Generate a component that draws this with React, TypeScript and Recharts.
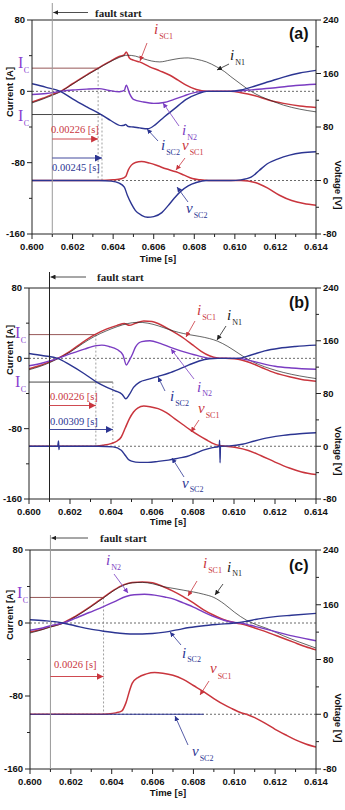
import React from 'react';
import { ComposedChart, Line, XAxis, YAxis, ReferenceLine } from 'recharts';

type Pt = [number, number];

// shared axes
const TIME_TICKS = [0.6, 0.601, 0.602, 0.603, 0.604, 0.605, 0.606, 0.607, 0.608, 0.609, 0.61, 0.611, 0.612, 0.613, 0.614];
const CURRENT_TICKS = [-160, -120, -80, -40, 0, 40, 80];
const CURRENT_LABELS = [-160, -80, 0, 80];
const VOLTAGE_TICKS = [-80, -40, 0, 40, 80, 120, 160, 200, 240];
const VOLTAGE_LABELS = [-80, 0, 80, 160, 240];
const FAULT_T = 0.601;

// (a)
const A_ISC1: Pt[] = [[0.6, -12], [0.6005, -8], [0.601, -3.5], [0.6014, 0], [0.602, 8.5], [0.6027, 18.5], [0.60326, 26], [0.6038, 33], [0.6043, 39], [0.60455, 41], [0.60465, 44], [0.6048, 37.5], [0.605, 35], [0.6053, 33], [0.6058, 27.5], [0.6063, 23], [0.6068, 18], [0.6072, 12.5], [0.6076, 7], [0.6081, 2], [0.6086, 0], [0.6098, 0], [0.6103, -1.5], [0.611, -5], [0.6117, -10], [0.6124, -13.5], [0.6132, -16.5], [0.614, -18]];
const A_IN1: Pt[] = [[0.6, -13], [0.6005, -9], [0.601, -4.5], [0.6014, -0.5], [0.602, 8], [0.6027, 18], [0.60326, 25.5], [0.6038, 32.5], [0.6043, 38], [0.6047, 40.5], [0.6051, 39.5], [0.6055, 36.5], [0.6059, 34], [0.6063, 33], [0.6068, 35], [0.6073, 37], [0.6077, 37.5], [0.6081, 36], [0.6086, 33], [0.6091, 27.5], [0.6095, 22], [0.6098, 16.5], [0.6103, 8], [0.6108, 0], [0.6113, -6], [0.6118, -10.5], [0.6124, -15.5], [0.6132, -20], [0.614, -23]];
const A_IN2: Pt[] = [[0.6, -3.5], [0.6007, -2.5], [0.6014, 0], [0.602, 1.5], [0.6027, 2.5], [0.6033, 3], [0.6038, 1], [0.6043, -0.5], [0.60455, 1], [0.60465, 7], [0.6048, -2], [0.605, -9], [0.6055, -12], [0.606, -13.5], [0.6065, -12.5], [0.607, -9], [0.6075, -5], [0.608, -1.5], [0.6085, 0], [0.6098, 0], [0.6105, 1], [0.611, 2], [0.612, 4], [0.613, 6.5], [0.614, 8]];
const A_ISC2: Pt[] = [[0.6, 8.5], [0.6007, 4.5], [0.6014, 0], [0.602, -8.5], [0.6027, -17.5], [0.60345, -26.6], [0.6039, -33], [0.6044, -38.5], [0.60455, -38], [0.6046, -37], [0.60475, -39.5], [0.605, -40], [0.6053, -41], [0.6057, -42], [0.6061, -37], [0.6065, -29], [0.607, -20], [0.6076, -9], [0.6082, -2.5], [0.6086, 0], [0.6098, 0], [0.6103, 1.5], [0.611, 6], [0.6117, 11], [0.6124, 16], [0.6132, 20.5], [0.614, 23.5]];
const A_VSC1: Pt[] = [[0.6, 0], [0.6033, 0], [0.604, 1], [0.6044, 2.5], [0.60462, 6], [0.60475, 16], [0.6049, 23], [0.6051, 27], [0.6054, 28.5], [0.6058, 26], [0.6062, 22], [0.6066, 17.5], [0.6071, 13], [0.6075, 8], [0.6079, 3], [0.6083, 1], [0.6087, 0], [0.6103, 0], [0.611, -3], [0.6116, -11], [0.6122, -22], [0.6128, -30], [0.6134, -34.5], [0.614, -37]];
const A_VSC2: Pt[] = [[0.6, 0], [0.6033, 0], [0.6039, -1], [0.6043, -4], [0.60455, -10], [0.6047, -22], [0.6049, -35], [0.6051, -45], [0.6054, -52], [0.6057, -55], [0.606, -54], [0.6064, -48], [0.6067, -38], [0.607, -27], [0.6073, -17], [0.6077, -8], [0.6081, -3], [0.6086, 0], [0.6098, 0], [0.6103, 1], [0.6108, 5], [0.6112, 15], [0.6116, 25], [0.6121, 32], [0.6127, 38], [0.6133, 41.5], [0.614, 43]];

// (b)
const B_ISC1: Pt[] = [[0.6, -12], [0.6005, -8.5], [0.601, -4], [0.6014, 0], [0.602, 8], [0.6026, 18], [0.60326, 27.5], [0.6038, 33.5], [0.6043, 37.5], [0.60465, 39.5], [0.6049, 37.5], [0.6052, 40], [0.6056, 42.5], [0.606, 42], [0.6064, 38.5], [0.6068, 33.5], [0.6072, 28], [0.6076, 22], [0.608, 15], [0.6084, 8], [0.6088, 3], [0.6092, 0.5], [0.6096, 0], [0.6102, -1], [0.6108, -5], [0.6114, -11], [0.612, -16.5], [0.6127, -21], [0.6133, -24], [0.614, -26]];
const B_IN1: Pt[] = [[0.6, -13], [0.6005, -9.5], [0.601, -5], [0.6014, -0.5], [0.602, 7], [0.6026, 16.5], [0.6032, 25], [0.6038, 31.5], [0.6043, 36], [0.6048, 39.5], [0.6053, 41], [0.6058, 40], [0.6063, 37], [0.6068, 33], [0.6073, 29.5], [0.6078, 27], [0.6083, 25], [0.6088, 22.5], [0.6092, 19.5], [0.6097, 13.5], [0.6102, 6], [0.6106, 0], [0.6112, -7], [0.6118, -12], [0.6124, -16], [0.6132, -20], [0.614, -23]];
const B_IN2: Pt[] = [[0.6, -8.5], [0.6007, -5], [0.6014, 0], [0.602, 5], [0.6027, 10.5], [0.6033, 14.5], [0.60355, 15], [0.6039, 13.5], [0.6043, 10], [0.60458, 4], [0.60475, -7.5], [0.6049, -2], [0.60505, 5], [0.6052, 13], [0.6055, 19], [0.6059, 20], [0.6064, 17], [0.6069, 12.5], [0.6074, 8.5], [0.6079, 5], [0.6084, 2], [0.6089, 0], [0.6102, 0], [0.6107, -2], [0.6113, -5.5], [0.612, -9], [0.6128, -11], [0.614, -12.5]];
const B_ISC2: Pt[] = [[0.6, 5.5], [0.6007, 3], [0.6014, 0], [0.602, -7.5], [0.6027, -17.5], [0.6033, -27], [0.6038, -33], [0.6042, -37], [0.60455, -41], [0.60472, -46], [0.6049, -41], [0.6051, -33], [0.6054, -27], [0.6058, -24], [0.6063, -20.5], [0.6068, -17], [0.6073, -12.5], [0.6078, -7.5], [0.6083, -3], [0.6088, -0.5], [0.6092, 0], [0.6102, 0], [0.6108, 3.5], [0.6115, 8.5], [0.6122, 11.5], [0.613, 13.5], [0.614, 15]];
const B_VSC1: Pt[] = [[0.6, 0], [0.6032, 0], [0.6036, 1.5], [0.604, 4], [0.6043, 8], [0.6045, 14], [0.6047, 28], [0.6049, 42], [0.6051, 52], [0.6053, 58], [0.6056, 61], [0.6059, 60], [0.6063, 57], [0.6067, 51], [0.6071, 42], [0.6075, 33], [0.6079, 24], [0.6083, 16], [0.6087, 9], [0.609, 4], [0.6093, 1], [0.6096, 0], [0.6101, -2], [0.6107, -6.5], [0.6113, -14], [0.612, -24], [0.6127, -33], [0.6133, -39], [0.614, -43]];
const B_VSC2: Pt[] = [[0.6, 0], [0.6014, 0], [0.60144, 8], [0.60146, -5], [0.60148, 0], [0.6034, 0], [0.6041, -1], [0.6045, -6], [0.6047, -14], [0.60485, -20], [0.605, -22.5], [0.6054, -24.5], [0.6058, -24.5], [0.6063, -23], [0.6068, -21], [0.6073, -18], [0.6077, -15.5], [0.6081, -11], [0.6085, -6], [0.6089, -2.5], [0.60928, 0], [0.6093, 9], [0.60932, -25], [0.60934, 0], [0.6098, 0.5], [0.6104, 3], [0.611, 8], [0.6117, 13], [0.6124, 16.5], [0.6132, 19], [0.614, 20.5]];

// (c)
const C_ISC1: Pt[] = [[0.6, -10], [0.6005, -7.5], [0.601, -4], [0.6016, 0], [0.6022, 7], [0.6029, 17], [0.6036, 28.2], [0.6041, 36], [0.6046, 42], [0.605, 44.5], [0.6055, 45], [0.606, 44], [0.6065, 40], [0.607, 35], [0.6075, 29], [0.608, 22], [0.6085, 14.5], [0.609, 8.5], [0.6095, 3.5], [0.6101, 0], [0.6106, -2.5], [0.611, -5.5], [0.6116, -10], [0.6122, -15], [0.6129, -21], [0.6135, -26], [0.614, -29.5]];
const C_IN1: Pt[] = [[0.6, -11], [0.6005, -8], [0.601, -4.5], [0.6016, -0.5], [0.6022, 6.5], [0.6029, 16.5], [0.6036, 27.5], [0.6041, 35.5], [0.6046, 41.5], [0.605, 44], [0.6055, 44.5], [0.606, 43], [0.6065, 40], [0.607, 38], [0.6075, 36], [0.608, 34], [0.6085, 31.5], [0.609, 28], [0.6095, 21], [0.61, 12], [0.6106, 3], [0.6111, -2], [0.6116, -6], [0.6124, -14], [0.6132, -21], [0.614, -27.5]];
const C_IN2: Pt[] = [[0.6, -8], [0.6005, -6], [0.601, -3], [0.6016, 0], [0.6022, 5], [0.6029, 11.5], [0.6036, 18], [0.6042, 24], [0.6047, 29], [0.6051, 31], [0.6056, 31.5], [0.6061, 30.5], [0.6066, 28.5], [0.607, 26.5], [0.6075, 22], [0.608, 17.5], [0.6085, 12], [0.609, 7], [0.6095, 3], [0.61, 0.5], [0.6103, 0], [0.6108, -2.5], [0.6115, -6.5], [0.6122, -10.5], [0.613, -15], [0.614, -19.5]];
const C_ISC2: Pt[] = [[0.6, 3.5], [0.6007, 2.5], [0.6012, 1.5], [0.6016, 0], [0.6022, -3], [0.6029, -6.5], [0.6036, -9], [0.6043, -11], [0.6049, -12], [0.6055, -12], [0.606, -11.5], [0.6066, -10], [0.6072, -7.5], [0.6078, -5], [0.6085, -3], [0.6092, -1.5], [0.61, 0], [0.6105, 1.5], [0.6112, 4.5], [0.612, 7], [0.6128, 8.5], [0.614, 10.5]];
const C_VSC1: Pt[] = [[0.6, 0], [0.6033, 0], [0.6038, 0.5], [0.6042, 2], [0.6045, 5], [0.6047, 17], [0.6049, 37], [0.605, 45], [0.6053, 54], [0.6057, 59], [0.6061, 61], [0.6065, 60], [0.607, 57], [0.6075, 51], [0.608, 42], [0.6085, 33], [0.609, 23], [0.6095, 14], [0.6099, 8], [0.6103, 2.5], [0.6106, 0], [0.611, -5], [0.6115, -13], [0.612, -22], [0.6125, -30], [0.613, -37.5], [0.6135, -43.5], [0.614, -48]];
const C_VSC2: Pt[] = [[0.6, 0], [0.603, 0], [0.606, 0], [0.6085, 0]];

const RED = '#c9353d';
const BLUE = '#2c3592';
const PURPLE = '#7a3cc2';
const BLACK = '#222';
const IC_PURPLE = '#8b3fd0';
const AXIS = '#222';

const PLOT_TOP = 20;
const PLOT_RIGHT = 316;
const RIGHT_AXIS_W = 29;
const X_AXIS_H = 31;

const SANS = '"Liberation Sans", Arial, sans-serif';
const SERIF = '"Liberation Serif", "Times New Roman", serif';
const TICK_FONT: React.CSSProperties = { fontFamily: SANS, fontSize: 9.5, fontWeight: 'bold', fill: '#111' };
const TITLE_FONT: React.CSSProperties = { fontFamily: SANS, fontSize: 9.5, fontWeight: 'bold', fill: '#111' };

function TimeTick(props: any) {
  const { x, y, payload } = props;
  const major = Math.round(payload.value * 1000) % 2 === 0;
  return (
    <g>
      <line x1={x} x2={x} y1={y} y2={y + (major ? 5 : 3)} stroke={AXIS} />
      {major && (
        <text x={x} y={y + 16} textAnchor="middle" style={TICK_FONT}>
          {payload.value.toFixed(3)}
        </text>
      )}
    </g>
  );
}

function CurrentTick(props: any) {
  const { x, y, payload } = props;
  const major = CURRENT_LABELS.includes(payload.value);
  return (
    <g>
      <line x1={x} x2={x - (major ? 5 : 3)} y1={y} y2={y} stroke={AXIS} />
      {major && (
        <text x={x - 7} y={y} dy="0.35em" textAnchor="end" style={TICK_FONT}>
          {payload.value}
        </text>
      )}
    </g>
  );
}

function VoltageTick(props: any) {
  const { x, y, payload } = props;
  const major = VOLTAGE_LABELS.includes(payload.value);
  return (
    <g>
      <line x1={x} x2={x + (major ? 5 : 3)} y1={y} y2={y} stroke={AXIS} />
      {major && (
        <text x={x + 7} y={y} dy="0.35em" textAnchor="start" style={TICK_FONT}>
          {payload.value}
        </text>
      )}
    </g>
  );
}

// italic symbol with a small subscript, e.g. i_SC1
function Sym({ x, y, s, sub, color, drop = 5 }: { x: number; y: number; s: string; sub: string; color: string; drop?: number }) {
  return (
    <text x={x} y={y} fill={color} style={{ fontFamily: SERIF }}>
      <tspan fontStyle="italic" fontSize={15}>{s}</tspan>
      <tspan fontSize={8} dx={1} dy={drop}>{sub}</tspan>
    </text>
  );
}

function IcLabel({ x, y }: { x: number; y: number }) {
  return (
    <text x={x} y={y} fill={IC_PURPLE} style={{ fontFamily: SERIF }}>
      <tspan fontSize={16}>I</tspan>
      <tspan fontSize={8} dx={0.5} dy={5}>C</tspan>
    </text>
  );
}

function Leader({ x1, y1, x2, y2, color, id }: { x1: number; y1: number; x2: number; y2: number; color: string; id: string }) {
  return <line x1={x1} y1={y1} x2={x2} y2={y2} stroke={color} strokeWidth={0.8} markerEnd={`url(#${id})`} />;
}

function Markers({ tag }: { tag: string }) {
  const cols: Record<string, string> = { red: RED, blue: BLUE, purple: PURPLE, black: '#222' };
  return (
    <defs>
      {Object.entries(cols).map(([k, c]) => (
        <React.Fragment key={k}>
          <marker id={`${tag}-s-${k}`} viewBox="0 0 10 10" refX="10" refY="5" markerWidth="5" markerHeight="5" markerUnits="userSpaceOnUse" orient="auto">
            <path d="M0,0 L10,5 L0,10 z" fill={c} />
          </marker>
          <marker id={`${tag}-l-${k}`} viewBox="0 0 10 10" refX="10" refY="5" markerWidth="7" markerHeight="7" markerUnits="userSpaceOnUse" orient="auto">
            <path d="M0,0 L10,5 L0,10 z" fill={c} />
          </marker>
        </React.Fragment>
      ))}
    </defs>
  );
}

interface PanelProps {
  tag: string;
  height: number;
  plotLeft: number;
  plotHeight: number;
  iSC1: Pt[]; iN1: Pt[]; iN2: Pt[]; iSC2: Pt[]; vSC1: Pt[]; vSC2: Pt[];
  vSC2Width?: number;
  ic: number;
  tRed: number;
  tBlue?: number;
  faultColor: string;
  faultTop: number;
  overlay: (sx: (t: number) => number) => React.ReactNode;
}

const pts = (a: Pt[]) => a.map(([t, v]) => ({ t, v }));

function Panel(p: PanelProps) {
  const sx = (t: number) => p.plotLeft + ((t - 0.6) / 0.014) * (PLOT_RIGHT - p.plotLeft);
  const mb = p.height - PLOT_TOP - p.plotHeight - X_AXIS_H;
  const zeroV = -100; // 0 V on the right axis lines up with -100 A on the left
  const series: [Pt[], string, string, number][] = [
    [p.iSC1, 'I', RED, 1.5],
    [p.iN1, 'I', BLACK, 0.7],
    [p.iN2, 'I', PURPLE, 1.4],
    [p.iSC2, 'I', BLUE, 1.4],
    [p.vSC1, 'V', RED, 1.5],
    [p.vSC2, 'V', BLUE, p.vSC2Width ?? 1.4],
  ];
  return (
    <div style={{ position: 'relative', width: 345, height: p.height }}>
      <ComposedChart width={345} height={p.height} margin={{ top: PLOT_TOP, right: 0, bottom: mb, left: 0 }}>
        <XAxis
          type="number"
          dataKey="t"
          domain={[0.6, 0.614]}
          ticks={TIME_TICKS}
          interval={0}
          allowDataOverflow
          height={X_AXIS_H}
          tick={<TimeTick />}
          tickLine={false}
          tickSize={0}
          tickMargin={0}
          axisLine={{ stroke: AXIS }}
        />
        <YAxis
          yAxisId="I"
          type="number"
          domain={[-160, 80]}
          ticks={CURRENT_TICKS}
          interval={0}
          width={p.plotLeft}
          tick={<CurrentTick />}
          tickLine={false}
          tickSize={0}
          tickMargin={0}
          axisLine={{ stroke: AXIS }}
        />
        <YAxis
          yAxisId="V"
          orientation="right"
          type="number"
          domain={[-80, 240]}
          ticks={VOLTAGE_TICKS}
          interval={0}
          width={RIGHT_AXIS_W}
          tick={<VoltageTick />}
          tickLine={false}
          tickSize={0}
          tickMargin={0}
          axisLine={{ stroke: AXIS }}
        />
        <ReferenceLine yAxisId="I" y={80} stroke={AXIS} />
        <ReferenceLine yAxisId="I" y={0} stroke="#444" strokeDasharray="2 2" strokeWidth={0.8} />
        <ReferenceLine yAxisId="V" y={0} stroke="#444" strokeDasharray="2 2" strokeWidth={0.8} />
        <ReferenceLine yAxisId="I" segment={[{ x: 0.6, y: p.ic }, { x: p.tRed, y: p.ic }]} stroke="#8b4545" strokeWidth={0.9} />
        <ReferenceLine yAxisId="I" segment={[{ x: p.tRed, y: p.ic }, { x: p.tRed, y: zeroV }]} stroke="#888" strokeDasharray="2 2" strokeWidth={0.8} />
        {p.tBlue !== undefined && (
          <ReferenceLine yAxisId="I" segment={[{ x: 0.6, y: -p.ic }, { x: p.tBlue, y: -p.ic }]} stroke="#333" strokeWidth={0.9} />
        )}
        {p.tBlue !== undefined && (
          <ReferenceLine yAxisId="I" segment={[{ x: p.tBlue, y: -p.ic }, { x: p.tBlue, y: zeroV }]} stroke="#888" strokeDasharray="2 2" strokeWidth={0.8} />
        )}
        {series.map(([d, ax, c, w], i) => (
          <Line
            key={i}
            yAxisId={ax}
            data={pts(d)}
            dataKey="v"
            type="monotone"
            stroke={c}
            strokeWidth={w}
            dot={false}
            activeDot={false}
            isAnimationActive={false}
          />
        ))}
      </ComposedChart>
      <svg width={345} height={p.height} style={{ position: 'absolute', left: 0, top: 0, pointerEvents: 'none' }}>
        <Markers tag={p.tag} />
        <line x1={sx(FAULT_T)} x2={sx(FAULT_T)} y1={p.faultTop} y2={PLOT_TOP + p.plotHeight} stroke={p.faultColor} strokeWidth={1} />
        {p.overlay(sx)}
      </svg>
    </div>
  );
}

const SERIF_SMALL: React.CSSProperties = { fontFamily: SERIF, fontSize: 10.5 };
const FAULT_FONT: React.CSSProperties = { fontFamily: SERIF, fontSize: 11, fontWeight: 'bold', fill: '#222' };
const TAG_FONT: React.CSSProperties = { fontFamily: SANS, fontSize: 16, fontWeight: 'bold', fill: '#111' };

function Titles({ cy, vy, tx, ty }: { cy: number; vy: number; tx: number; ty: number }) {
  return (
    <>
      <text transform={`translate(9, ${cy}) rotate(-90)`} textAnchor="middle" dominantBaseline="central" style={TITLE_FONT}>Current [A]</text>
      <text transform={`translate(338, ${vy}) rotate(90)`} textAnchor="middle" dominantBaseline="central" style={TITLE_FONT}>Voltage [V]</text>
      <text x={tx} y={ty} textAnchor="middle" style={TITLE_FONT}>Time [s]</text>
    </>
  );
}

export default function App() {
  return (
    <div style={{ position: 'absolute', left: 0, top: 0, width: 345, height: 810, background: '#fff' }}>
      <Panel
        tag="a" height={268} plotLeft={32} plotHeight={214}
        iSC1={A_ISC1} iN1={A_IN1} iN2={A_IN2} iSC2={A_ISC2} vSC1={A_VSC1} vSC2={A_VSC2}
        ic={26} tRed={0.60326} tBlue={0.60345} faultColor="#999" faultTop={3}
        overlay={(sx) => (
          <>
            <line x1={88} y1={12.5} x2={sx(FAULT_T) + 1} y2={12.5} stroke="#222" strokeWidth={0.8} markerEnd="url(#a-s-black)" />
            <text x={95} y={16.5} style={FAULT_FONT}>fault start</text>
            <text x={289} y={39} style={TAG_FONT}>(a)</text>
            <IcLabel x={18} y={68} />
            <IcLabel x={18} y={121} />
            <text x={51} y={133} fill={RED} style={SERIF_SMALL}>0.00226 [s]</text>
            <line x1={sx(FAULT_T)} x2={sx(0.60326)} y1={139} y2={139} stroke={RED} strokeWidth={0.9} markerEnd="url(#a-l-red)" />
            <line x1={sx(FAULT_T)} x2={sx(0.60345)} y1={158} y2={158} stroke={BLUE} strokeWidth={0.9} markerEnd="url(#a-l-blue)" />
            <text x={52} y={171} fill={BLUE} style={SERIF_SMALL}>0.00245 [s]</text>
            <Sym x={154} y={34} s="i" sub="SC1" color={RED} />
            <Leader x1={147} y1={43} x2={140} y2={61} color={RED} id="a-s-red" />
            <Sym x={230} y={60} s="i" sub="N1" color="#222" />
            <Leader x1={229} y1={64} x2={217} y2={70} color="#222" id="a-s-black" />
            <Sym x={182} y={135} s="i" sub="N2" color={PURPLE} />
            <Leader x1={179} y1={126} x2={163} y2={103} color={PURPLE} id="a-s-purple" />
            <Sym x={161} y={150} s="i" sub="SC2" color={BLUE} />
            <Leader x1={158} y1={141} x2={147} y2={129} color={BLUE} id="a-s-blue" />
            <Sym x={182} y={150} s="v" sub="SC1" color={RED} />
            <Leader x1={185} y1={158} x2={176} y2={170} color={RED} id="a-s-red" />
            <Sym x={186} y={213} s="v" sub="SC2" color={BLUE} />
            <Leader x1={188} y1={202} x2={177} y2={187} color={BLUE} id="a-s-blue" />
            <Titles cy={92} vy={185} tx={158} ty={262} />
          </>
        )}
      />
      <Panel
        tag="b" height={262} plotLeft={29} plotHeight={211}
        iSC1={B_ISC1} iN1={B_IN1} iN2={B_IN2} iSC2={B_ISC2} vSC1={B_VSC1} vSC2={B_VSC2}
        ic={27} tRed={0.60326} tBlue={0.60409} faultColor="#222" faultTop={4}
        overlay={(sx) => (
          <>
            <line x1={86} y1={9} x2={sx(FAULT_T) + 1} y2={9} stroke="#222" strokeWidth={0.8} markerEnd="url(#b-s-black)" />
            <text x={97} y={13} style={FAULT_FONT}>fault start</text>
            <text x={289} y={40} style={TAG_FONT}>(b)</text>
            <IcLabel x={15} y={70} />
            <IcLabel x={15} y={119} />
            <text x={50} y={132} fill={RED} style={SERIF_SMALL}>0.00226 [s]</text>
            <line x1={sx(FAULT_T)} x2={sx(0.60326)} y1={137.5} y2={137.5} stroke={RED} strokeWidth={0.9} markerEnd="url(#b-l-red)" />
            <text x={50} y={157} fill={BLUE} style={SERIF_SMALL}>0.00309 [s]</text>
            <line x1={sx(FAULT_T)} x2={sx(0.60409)} y1={161.5} y2={161.5} stroke={BLUE} strokeWidth={0.9} markerEnd="url(#b-l-blue)" />
            <Sym x={197} y={47} s="i" sub="SC1" color={RED} />
            <Leader x1={195} y1={53} x2={186} y2={69} color={RED} id="b-s-red" />
            <Sym x={227} y={52} s="i" sub="N1" color="#222" />
            <Leader x1={226} y1={58} x2={217} y2={72} color="#222" id="b-s-black" />
            <Sym x={197} y={124} s="i" sub="N2" color={PURPLE} drop={4} />
            <Leader x1={194} y1={111} x2={171} y2={81} color={PURPLE} id="b-s-purple" />
            <Sym x={170} y={133} s="i" sub="SC2" color={BLUE} />
            <Leader x1={165} y1={123} x2={158} y2={109} color={BLUE} id="b-s-blue" />
            <Sym x={198} y={145} s="v" sub="SC1" color={RED} />
            <Leader x1={199} y1={152} x2={191} y2={164} color={RED} id="b-s-red" />
            <Sym x={182} y={220} s="v" sub="SC2" color={BLUE} drop={4} />
            <Leader x1={184} y1={209} x2={172} y2={190} color={BLUE} id="b-s-blue" />
            <Titles cy={82} vy={183} tx={168} ty={257} />
          </>
        )}
      />
      <Panel
        tag="c" height={280} plotLeft={30} plotHeight={219}
        iSC1={C_ISC1} iN1={C_IN1} iN2={C_IN2} iSC2={C_ISC2} vSC1={C_VSC1} vSC2={C_VSC2}
        vSC2Width={1.1}
        ic={28} tRed={0.6036} faultColor="#999" faultTop={5}
        overlay={(sx) => (
          <>
            <line x1={88} y1={8} x2={sx(FAULT_T) + 1} y2={8} stroke="#222" strokeWidth={0.8} markerEnd="url(#c-s-black)" />
            <text x={100} y={12} style={FAULT_FONT}>fault start</text>
            <text x={289} y={41} style={TAG_FONT}>(c)</text>
            <IcLabel x={17} y={68} />
            <text x={54} y={138} fill={RED} style={SERIF_SMALL}>0.0026 [s]</text>
            <line x1={sx(FAULT_T)} x2={sx(0.6036)} y1={146.5} y2={146.5} stroke={RED} strokeWidth={0.9} markerEnd="url(#c-l-red)" />
            <Sym x={106} y={35} s="i" sub="N2" color={PURPLE} />
            <Leader x1={114} y1={44} x2={128} y2={63} color={PURPLE} id="c-s-purple" />
            <Sym x={203} y={38} s="i" sub="SC1" color={RED} />
            <Leader x1={197} y1={51} x2={188} y2={66} color={RED} id="c-s-red" />
            <Sym x={227} y={42} s="i" sub="N1" color="#222" drop={4} />
            <Leader x1={223} y1={54} x2={215} y2={65} color="#222" id="c-s-black" />
            <Sym x={182} y={128} s="i" sub="SC2" color={BLUE} drop={4} />
            <Leader x1={181} y1={115} x2={170} y2={102} color={BLUE} id="c-s-blue" />
            <Sym x={210} y={143} s="v" sub="SC1" color={RED} drop={6} />
            <Leader x1={209} y1={151} x2={200} y2={165} color={RED} id="c-s-red" />
            <Sym x={192} y={226} s="v" sub="SC2" color={BLUE} />
            <Leader x1={188} y1={215} x2={175} y2={186} color={BLUE} id="c-s-blue" />
            <Titles cy={85} vy={188} tx={168} ty={266} />
          </>
        )}
      />
    </div>
  );
}
